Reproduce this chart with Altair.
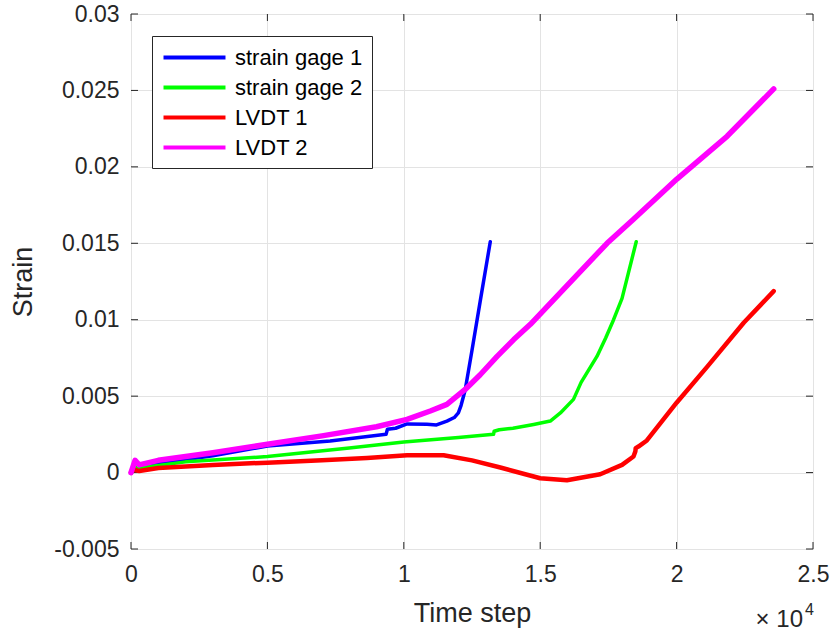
import altair as alt
import pandas as pd

# Strain readings against time step for the four instruments
sg1_step = [0, 150, 300, 1000, 3000, 5000, 7300, 9350, 9400, 9700, 10120, 10850,
            11200, 11580, 11850, 12000, 12100, 12250, 12500, 12800, 13170]
sg1_strain = [0.0, 0.0007, 0.0004, 0.0006, 0.0011, 0.00174, 0.00207, 0.0025, 0.00283,
              0.0029, 0.00318, 0.00316, 0.00312, 0.00337, 0.0036, 0.0039, 0.0044,
              0.0054, 0.0080, 0.0112, 0.0151]

sg2_step = [0, 150, 300, 2000, 5000, 8000, 10000, 12000, 13290, 13310, 13500, 14000,
            14760, 15370, 15740, 16220, 16500, 17080, 17400, 17690, 18000, 18520]
sg2_strain = [0.0, 0.0004, 0.0003, 0.0007, 0.00105, 0.0016, 0.0020, 0.0023, 0.0025,
              0.0027, 0.0028, 0.0029, 0.00315, 0.00337, 0.0039, 0.00479,
              0.0059, 0.0076, 0.0088, 0.0100, 0.0114, 0.0151]

lv1_step = [0, 100, 300, 1000, 3000, 5000, 7000, 8650, 10120, 11460, 12500, 13540,
            15000, 15980, 17200, 18000, 18420, 18490, 18500, 18600, 18910, 20000,
            21110, 22460, 23560]
lv1_strain = [0.0, 0.0002, 0.0001, 0.0003, 0.0005, 0.00065, 0.0008, 0.00095, 0.00113,
              0.00113, 0.0008, 0.00033, -0.00037, -0.0005, -0.00011, 0.0005, 0.00105,
              0.0014, 0.0016, 0.0017, 0.0021, 0.00457, 0.0069, 0.0098, 0.01187]

lv2_step = [0, 150, 300, 1000, 3000, 5000, 7000, 9000, 10120, 10970, 11580, 12250,
            12800, 13420, 14030, 14640, 17450, 18420, 20010, 21850, 23560]
lv2_strain = [0.0, 0.0008, 0.0005, 0.0008, 0.0013, 0.00185, 0.0024, 0.0030, 0.00348,
              0.00403, 0.00446, 0.00544, 0.0064, 0.0076, 0.0087, 0.0097, 0.0150,
              0.01657, 0.0192, 0.0220, 0.0251]

series_names = ["strain gage 1", "strain gage 2", "LVDT 1", "LVDT 2"]
series_colors = ["#0000FF", "#00FF00", "#FF0000", "#FF00FF"]
series_widths = [3.5, 3.5, 4.5, 5.5]

x_ticks = [0, 5000, 10000, 15000, 20000, 25000]
y_ticks = [-0.005, 0, 0.005, 0.01, 0.015, 0.02, 0.025, 0.03]

W, H = 682, 535
FONT = "Liberation Sans"
INK = "#262626"
TICK_LEN = 7

x_scale = alt.Scale(domain=[0, 25000], nice=False, zero=False)
y_scale = alt.Scale(domain=[-0.005, 0.03], nice=False, zero=False)
color_scale = alt.Scale(domain=series_names, range=series_colors)

x_axis = alt.Axis(
    values=x_ticks, labelExpr="format(datum.value / 10000, '.1~f')",
    grid=True, gridColor="#e3e3e3", domain=False, ticks=False, labelFlush=False,
    labelFontSize=23, labelFont=FONT, labelColor=INK, labelPadding=14,
    title="Time step", titleFontSize=27, titleFont=FONT, titleColor=INK,
    titleFontWeight="normal", titlePadding=14,
)
y_axis = alt.Axis(
    values=y_ticks,
    labelExpr="datum.value < 0 ? '-' + format(-datum.value, '.3~f') : format(datum.value, '.3~f')",
    grid=True, gridColor="#e3e3e3", domain=False, ticks=False, labelFlush=False,
    labelFontSize=23, labelFont=FONT, labelColor=INK, labelPadding=12,
    title="Strain", titleFontSize=27, titleFont=FONT, titleColor=INK,
    titleFontWeight="normal", titlePadding=16,
)

# A horizontal dash three units either side of centre: 62 px long at size 427
legend = alt.Legend(
    title=None, orient="none", legendX=21, legendY=22,
    symbolType="M-3,0H3", symbolSize=427, symbolStrokeWidth=4,
    symbolOffset=21, labelOffset=28,
    labelFontSize=22, labelFont=FONT, labelColor="#000000",
    rowPadding=6, padding=9,
    strokeColor=INK, fillColor="white", cornerRadius=0,
)

series = [
    (sg1_step, sg1_strain),
    (sg2_step, sg2_strain),
    (lv1_step, lv1_strain),
    (lv2_step, lv2_strain),
]

layers = []
for i, (steps, strains) in enumerate(series):
    df = pd.DataFrame({"step": steps, "strain": strains, "series": series_names[i]})
    layers.append(
        alt.Chart(df).mark_line(strokeWidth=series_widths[i], strokeJoin="round",
                                strokeCap="round").encode(
            x=alt.X("step:Q", scale=x_scale, axis=x_axis),
            y=alt.Y("strain:Q", scale=y_scale, axis=y_axis),
            color=alt.Color("series:N", scale=color_scale, sort=series_names, legend=legend),
            order=alt.Order("step:Q"),
        )
    )

# Inward-pointing ticks on all four sides of the box
xt = pd.DataFrame({"t": x_ticks})
yt = pd.DataFrame({"t": y_ticks})
tick_style = dict(color=INK, strokeWidth=1)
ticks = [
    alt.Chart(xt).mark_rule(**tick_style).encode(
        x=alt.X("t:Q", scale=x_scale, axis=x_axis), y=alt.value(H), y2=alt.value(H - TICK_LEN)),
    alt.Chart(xt).mark_rule(**tick_style).encode(
        x=alt.X("t:Q", scale=x_scale, axis=x_axis), y=alt.value(0), y2=alt.value(TICK_LEN)),
    alt.Chart(yt).mark_rule(**tick_style).encode(
        y=alt.Y("t:Q", scale=y_scale, axis=y_axis), x=alt.value(0), x2=alt.value(TICK_LEN)),
    alt.Chart(yt).mark_rule(**tick_style).encode(
        y=alt.Y("t:Q", scale=y_scale, axis=y_axis), x=alt.value(W), x2=alt.value(W - TICK_LEN)),
]

# Exponent note for the time-step axis
exp_base = alt.Chart(pd.DataFrame({"s": ["× 10"]})).mark_text(
    font=FONT, fontSize=24, color=INK, align="right", baseline="alphabetic"
).encode(text="s:N", x=alt.value(W - 10), y=alt.value(H + 78))
exp_pow = alt.Chart(pd.DataFrame({"s": ["4"]})).mark_text(
    font=FONT, fontSize=16, color=INK, align="left", baseline="alphabetic"
).encode(text="s:N", x=alt.value(W - 8), y=alt.value(H + 66))

chart = alt.layer(*ticks, *layers, exp_base, exp_pow).properties(
    width=W, height=H,
    autosize=alt.AutoSizeParams(type="none"),
    padding={"left": 131, "top": 14, "right": 21, "bottom": 83},
).configure_view(stroke=INK, strokeWidth=1).configure(background="white")

chart.save("out.html", embed_options={"renderer": "svg", "actions": False})
